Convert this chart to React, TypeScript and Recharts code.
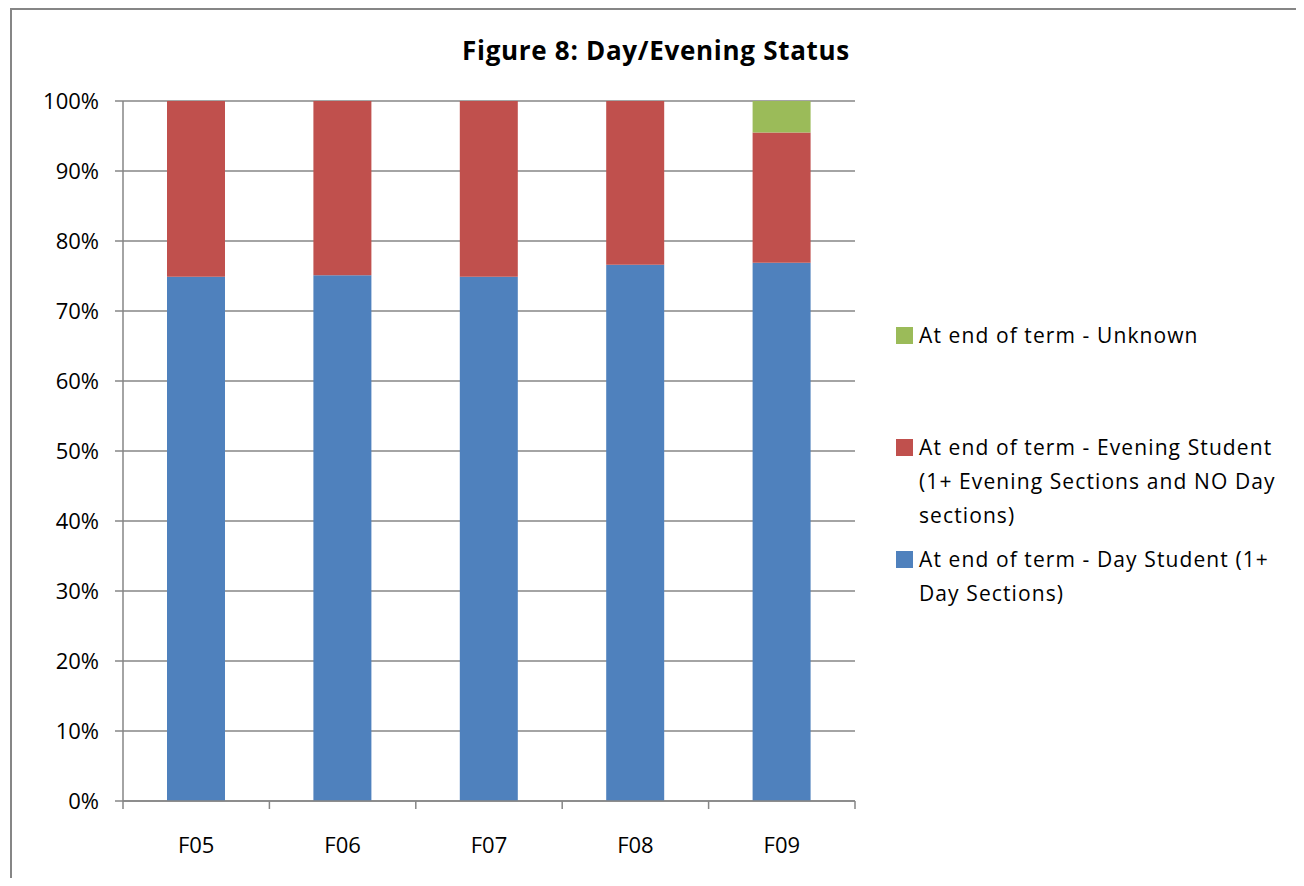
import React from 'react';
import { BarChart, Bar, XAxis, YAxis, CartesianGrid } from 'recharts';

const terms = ['F05', 'F06', 'F07', 'F08', 'F09'];
const dayStudent = [74.9, 75.1, 74.9, 76.6, 76.9];
const eveningStudent = [25.1, 24.9, 25.1, 23.4, 18.6];
const unknownStatus = [0, 0, 0, 0, 4.5];
const yTicks = [0, 10, 20, 30, 40, 50, 60, 70, 80, 90, 100];

const series = [
  { key: 'day', name: 'At end of term - Day Student (1+ Day Sections)', color: '#4F81BD' },
  { key: 'evening', name: 'At end of term - Evening Student (1+ Evening Sections and NO Day sections)', color: '#C0504D' },
  { key: 'unknown', name: 'At end of term - Unknown', color: '#9BBB59' },
];

const data = terms.map((t, i) => ({
  term: t,
  day: dayStudent[i],
  evening: eveningStudent[i],
  unknown: unknownStatus[i],
}));

const FONT = '"Open Sans", Lato, sans-serif';
const AXIS = '#868686';

// category ticks sit on the band edges, labels in the middle
const XTick = (props: any) => {
  const { x, y, payload, index, visibleTicksCount } = props;
  const half = payload.offset || 73.2;
  return (
    <g>
      <line x1={x - half} y1={y} x2={x - half} y2={y + 8} stroke={AXIS} strokeWidth={1.5} />
      {index === visibleTicksCount - 1 && (
        <line x1={x + half} y1={y} x2={x + half} y2={y + 8} stroke={AXIS} strokeWidth={1.5} />
      )}
      <text x={x} y={y + 46} textAnchor="middle" dominantBaseline="middle" fontSize={22} fontFamily={FONT} fill="#000">
        {payload.value}
      </text>
    </g>
  );
};

export default function App() {
  const legendGaps = [0, 78, 10];
  return (
    <div style={{ position: 'relative', width: 1288, height: 870, overflow: 'hidden', background: '#fff' }}>
      <div style={{ position: 'absolute', left: 2, top: 0, width: 2000, height: 2000, border: '2px solid #868686' }} />
      <div style={{ position: 'absolute', left: 0, top: 24, width: 1296, textAlign: 'center', fontFamily: FONT, fontWeight: 700, fontSize: 26, letterSpacing: 0.7 }}>
        Figure 8: Day/Evening Status
      </div>
      <div style={{ position: 'absolute', left: 0, top: 0 }}>
        <BarChart width={1288} height={870} data={data} margin={{ top: 93, right: 441, left: 0, bottom: 37 }} barSize={58}>
          <CartesianGrid vertical={false} stroke={AXIS} strokeWidth={1.5} />
          <XAxis dataKey="term" height={40} stroke={AXIS} strokeWidth={1.5} tickLine={false} tickSize={0} tickMargin={0} tick={<XTick />} interval={0} />
          <YAxis
            domain={[0, 100]}
            ticks={yTicks}
            width={115}
            stroke={AXIS}
            strokeWidth={1.5}
            tickSize={8}
            tickMargin={16}
            tickFormatter={(v: number) => `${v}%`}
            tick={{ fill: '#000', fontSize: 22, fontFamily: FONT }}
          />
          {series.map((s) => (
            <Bar key={s.key} dataKey={s.key} name={s.name} stackId="a" fill={s.color} isAnimationActive={false} />
          ))}
        </BarChart>
      </div>
      <div style={{ position: 'absolute', left: 888, top: 310, width: 400, fontFamily: FONT, fontSize: 21, lineHeight: '34px', letterSpacing: 1.1, color: '#000' }}>
        {[...series].reverse().map((s, i) => (
          <div key={s.key} style={{ display: 'flex', marginTop: legendGaps[i] }}>
            <span style={{ width: 17, height: 17, background: s.color, marginTop: 9, marginRight: 6, flex: 'none' }} />
            <span style={{ width: 372 }}>{s.name}</span>
          </div>
        ))}
      </div>
    </div>
  );
}
